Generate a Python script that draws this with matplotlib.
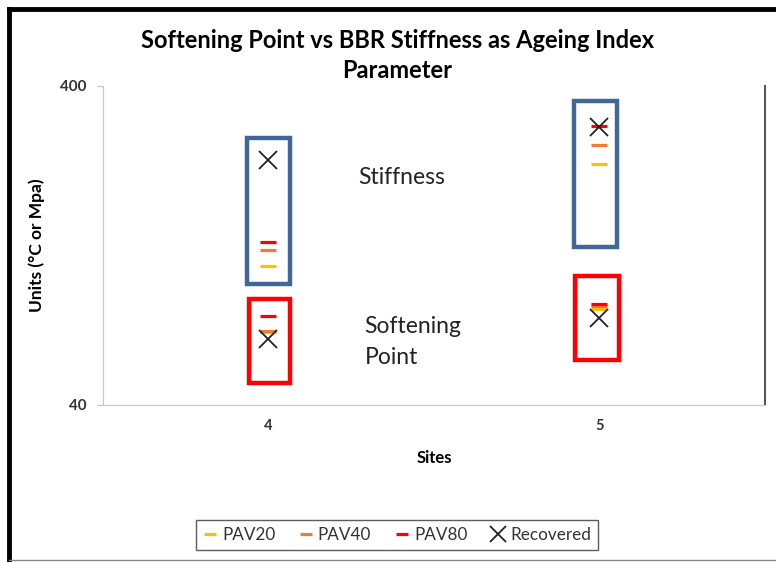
import matplotlib
matplotlib.use('Agg')
import matplotlib.pyplot as plt
from matplotlib.patches import Rectangle
from matplotlib.lines import Line2D

plt.rcParams['font.family'] = ['Lato', 'DejaVu Sans']

# data
sites = [4, 5]
pav20_stiff = [109, 228]
pav40_stiff = [122, 261]
pav80_stiff = [130, 299]
rec_stiff = [234, 297]
pav20_soft = [67.5, 80]
pav40_soft = [68, 81.7]
pav80_soft = [76, 83]
rec_soft = [64.4, 75]

fig = plt.figure(figsize=(7.76, 5.62), dpi=100)
ax = fig.add_axes([0.1327, 0.2794, 0.8531, 0.5676])

x = sites + sites
ax.plot(x, pav20_stiff + pav20_soft, ls='none', marker='_', ms=11, mew=2.3, color='#FFC000', label='PAV20')
ax.plot(x, pav40_stiff + pav40_soft, ls='none', marker='_', ms=11, mew=2.3, color='#ED7D31', label='PAV40')
ax.plot(x, pav80_stiff + pav80_soft, ls='none', marker='_', ms=11, mew=2.3, color='#FF0000', label='PAV80')
ax.plot(x, rec_stiff + rec_soft, ls='none', marker='x', ms=13, mew=1.3, color='#222222', label='Recovered')

ax.set_yscale('log')
ax.set_ylim(40, 400)
ax.set_xlim(3.5, 5.5)
ax.set_yticks([40, 400])
ax.set_yticklabels(['40', '400'], fontweight='bold', fontsize=11, color='#333333')
ax.yaxis.set_minor_locator(matplotlib.ticker.NullLocator())
ax.set_xticks(sites)
ax.set_xticklabels(['4', '5'], fontweight='bold', fontsize=10.5, color='#333333')
ax.tick_params(axis='x', length=0, pad=10)
ax.tick_params(axis='y', length=4, color='#BFBFBF', pad=8)

ax.spines['top'].set_visible(False)
ax.spines['left'].set_color('#C8C8C8')
ax.spines['bottom'].set_color('#C8C8C8')
ax.spines['right'].set_color('#555555')
ax.spines['right'].set_linewidth(1.5)

ax.set_xlabel('Sites', fontweight='bold', fontsize=12, labelpad=12)
ax.set_ylabel('Units (°C or Mpa)', fontweight='bold', fontsize=12.5, labelpad=11)

# group boxes (x0, x1, y0, y1)
boxes = [
    (3.935, 4.065, 96, 275, '#41679A'),
    (4.923, 5.053, 125, 359, '#41679A'),
    (3.94, 4.065, 47, 86, '#FF0000'),
    (4.925, 5.058, 55.4, 101.5, '#FF0000'),
]
for x0, x1, y0, y1, c in boxes:
    ax.add_patch(Rectangle((x0, y0), x1 - x0, y1 - y0, fill=False, ec=c, lw=3.2, zorder=1))

ax.text(4.27, 206, 'Stiffness', fontsize=16.5, va='center', ha='left', color='#222222')
ax.text(4.29, 63, 'Softening\nPoint', fontsize=16.5, va='center', ha='left', color='#222222', linespacing=1.62)

fig.suptitle('Softening Point vs BBR Stiffness as Ageing Index\nParameter', x=0.512, y=0.948,
             fontweight='bold', fontsize=17, linespacing=1.35)

handles = [
    Line2D([], [], ls='none', marker='_', ms=9, mew=2.3, color='#FFC000'),
    Line2D([], [], ls='none', marker='_', ms=9, mew=2.3, color='#ED7D31'),
    Line2D([], [], ls='none', marker='_', ms=9, mew=2.3, color='#FF0000'),
    Line2D([], [], ls='none', marker='x', ms=11, mew=1.3, color='#222222'),
]
leg = fig.legend(handles, ['PAV20', 'PAV40', 'PAV80', 'Recovered'], loc='center',
                 bbox_to_anchor=(0.5116, 0.048), ncol=4, fontsize=12.3, frameon=True,
                 fancybox=False, edgecolor='#333333', handlelength=0.8, handletextpad=0.3,
                 columnspacing=1.4, borderpad=0.4)
leg.get_frame().set_linewidth(1.0)
for t in leg.get_texts():
    t.set_color('#333333')

# chart area border: thick black on top and left, thin gray bottom
fig.add_artist(Line2D([0.0116, 1.0], [0.984, 0.984], color='black', lw=3.5, transform=fig.transFigure))
fig.add_artist(Line2D([0.0116, 0.0116], [0.0, 0.984], color='black', lw=3.5, transform=fig.transFigure))
fig.add_artist(Line2D([0.0116, 1.0], [0.003, 0.003], color='#888888', lw=1.0, transform=fig.transFigure))

fig.savefig('out.png', dpi=100)
